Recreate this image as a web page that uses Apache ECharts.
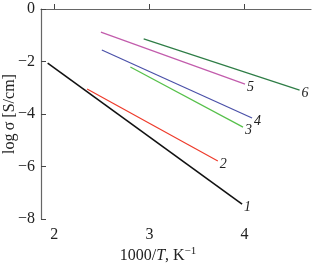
<!DOCTYPE html>
<html><head><meta charset="utf-8">
<script src="https://cdn.jsdelivr.net/npm/echarts@6/dist/echarts.min.js"></script>
<style>html,body{margin:0;padding:0;background:#fff}#c{width:312px;height:264px}</style>
</head><body><div id="c"></div>
<script>
const seriesNames = ['1','2','3','4','5','6'];
const seriesColors = ['#111111','#ee3b2b','#56c04a','#4a50a8','#c25cac','#2e7d46'];
const line1 = [[1.93,-2.06],[3.975,-7.43]];
const line2 = [[2.345,-3.05],[3.72,-5.79]];
const line3 = [[2.80,-2.21],[3.985,-4.50]];
const line4 = [[2.50,-1.56],[4.08,-4.15]];
const line5 = [[2.49,-0.88],[4.006,-2.86]];
const line6 = [[2.94,-1.14],[4.58,-3.09]];
const xTicks = [2,3,4];
const yTicks = [-8,-6,-4,-2,0];
const lines = [line1,line2,line3,line4,line5,line6];

const font = '"Liberation Serif","Times New Roman",serif';
const chart = echarts.init(document.getElementById('c'));
const fmt = v => String(v).replace('-', '\u2212');
chart.setOption({
  animation:false,
  grid:{left:41,top:9,right:1,bottom:45,containLabel:false,outerBoundsMode:'none'},
  xAxis:{type:'value',min:1.86,max:4.7,
    axisLine:{lineStyle:{color:'#666',width:1.2}},
    axisTick:{inside:true,length:5,customValues:xTicks,lineStyle:{color:'#444'}},
    axisLabel:{customValues:xTicks,color:'#222',fontFamily:font,fontSize:16,margin:8,formatter:fmt},
    splitLine:{show:false},
    name:'{a|1000/}{b|T}{a|, K}{s|\u22121}',nameLocation:'middle',nameGap:27,nameMoveOverlap:false,
    nameTextStyle:{verticalAlign:'top',padding:[0,36,0,0],rich:{a:{fontFamily:font,fontSize:16,color:'#222'},b:{fontFamily:font,fontSize:16,fontStyle:'italic',color:'#222'},s:{fontFamily:font,fontSize:11,color:'#222',verticalAlign:'top',padding:[0,0,8,0]}}}
  },
  yAxis:{type:'value',min:-8,max:0,interval:2,
    axisLine:{show:true,lineStyle:{color:'#666',width:1.2}},
    axisTick:{show:true,inside:true,length:5,lineStyle:{color:'#444'}},
    axisLabel:{color:'#222',fontFamily:font,fontSize:16,margin:6,formatter:fmt},
    splitLine:{show:false},
    name:'log\u2009\u03c3 [S/cm]',nameLocation:'middle',nameGap:23,nameMoveOverlap:false,
    nameTextStyle:{fontFamily:font,fontSize:16,color:'#222'}
  },
  series: lines.map((d,i)=>({
    type:'line',name:seriesNames[i],symbol:'none',
    data:d,
    lineStyle:{color:seriesColors[i],width:i===0?1.6:1.2},
    itemStyle:{color:seriesColors[i]},
    endLabel:{show:true,distance:2,offset:[0,3],formatter:seriesNames[i],
      fontFamily:font,fontStyle:'italic',fontSize:14,color:'#222'}
  }))
});
</script></body></html>
